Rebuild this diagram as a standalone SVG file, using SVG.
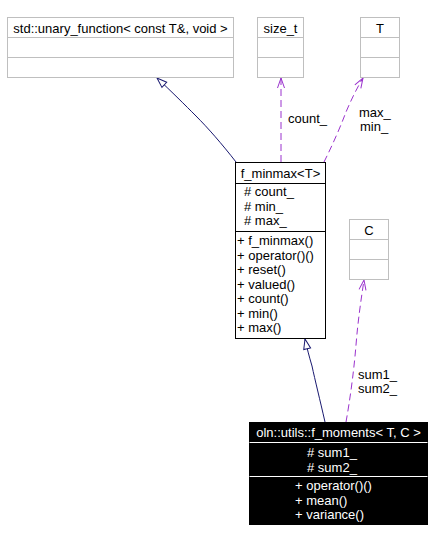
<svg xmlns="http://www.w3.org/2000/svg" width="432" height="542" viewBox="0 0 432 542">
<defs>
<style>
text{font-family:"Liberation Sans",Arial,sans-serif;font-size:13px;fill:#000}
.ext rect,.ext line{fill:#fff;stroke:#bfbfbf;stroke-width:1}
.main rect,.main line{fill:#fff;stroke:#000;stroke-width:1}
.cur rect{fill:#000;stroke:#000}
.cur line{stroke:#fff;stroke-width:1}
.cur text{fill:#fff}
.inh{fill:none;stroke:#191970;stroke-width:1}
.use{fill:none;stroke:#9a32cd;stroke-width:1;stroke-dasharray:7,4}
.lbl{font-size:13px}
</style>
<marker id="tri" markerWidth="12" markerHeight="10" refX="11" refY="5" orient="auto" markerUnits="userSpaceOnUse">
<path d="M1,1.5 L11,5 L1,8.5 Z" fill="#fff" stroke="#191970" stroke-width="1"/>
</marker>
<marker id="vee" markerWidth="12" markerHeight="10" refX="11" refY="5" orient="auto" markerUnits="userSpaceOnUse">
<path d="M1,1.5 L11,5 L1,8.5" fill="none" stroke="#9a32cd" stroke-width="1"/>
</marker>
</defs>
<rect width="432" height="542" fill="#fff"/>

<g id="connectors">
<path class="inh" d="M236,162 C222,144 208,128 196,116 C185,105 172,92 157,78" marker-end="url(#tri)"/>
<path class="use" d="M281,162 L281,78" marker-end="url(#vee)"/>
<path class="use" d="M324,162 C332,146 340,128 346,112 C352,98 357,88 363,78" marker-end="url(#vee)"/>
<path class="inh" d="M325,422 C320,400 315,380 312,366 C309,356 307,348 305,339" marker-end="url(#tri)"/>
<path class="use" d="M346,422 C350,400 354,370 356,345 C358,320 361,300 364,280" marker-end="url(#vee)"/>
<text class="lbl" x="288" y="123">count_</text>
<text class="lbl" x="359" y="117">max_</text>
<text class="lbl" x="360" y="131">min_</text>
<text class="lbl" x="358" y="379">sum1_</text>
<text class="lbl" x="358" y="393">sum2_</text>
</g>

<g id="node-unary-function" class="ext">
<rect x="7.5" y="17.5" width="226" height="60"/>
<line x1="7.5" y1="37.5" x2="233.5" y2="37.5"/>
<line x1="7.5" y1="57.5" x2="233.5" y2="57.5"/>
<text x="120.5" y="33" text-anchor="middle">std::unary_function&lt; const T&amp;, void &gt;</text>
</g>

<g id="node-size-t" class="ext">
<rect x="257.5" y="17.5" width="46" height="60"/>
<line x1="257.5" y1="37.5" x2="303.5" y2="37.5"/>
<line x1="257.5" y1="57.5" x2="303.5" y2="57.5"/>
<text x="280.5" y="33" text-anchor="middle">size_t</text>
</g>

<g id="node-T" class="ext">
<rect x="360.5" y="17.5" width="39" height="60"/>
<line x1="360.5" y1="37.5" x2="399.5" y2="37.5"/>
<line x1="360.5" y1="57.5" x2="399.5" y2="57.5"/>
<text x="380" y="33" text-anchor="middle">T</text>
</g>

<g id="node-C" class="ext">
<rect x="349.5" y="219.5" width="39" height="60"/>
<line x1="349.5" y1="239.5" x2="388.5" y2="239.5"/>
<line x1="349.5" y1="259.5" x2="388.5" y2="259.5"/>
<text x="369" y="235" text-anchor="middle">C</text>
</g>

<g id="node-f-minmax" class="main">
<rect x="235.5" y="162.5" width="90" height="176"/>
<line x1="235.5" y1="183.5" x2="325.5" y2="183.5"/>
<line x1="235.5" y1="231.5" x2="325.5" y2="231.5"/>
<text x="280.5" y="178" text-anchor="middle">f_minmax&lt;T&gt;</text>
<text x="244" y="196"># count_</text>
<text x="244" y="210.5"># min_</text>
<text x="244" y="225"># max_</text>
<text x="237" y="245">+ f_minmax()</text>
<text x="237" y="259.5">+ operator()()</text>
<text x="237" y="274">+ reset()</text>
<text x="237" y="288.5">+ valued()</text>
<text x="237" y="303">+ count()</text>
<text x="237" y="317.5">+ min()</text>
<text x="237" y="332">+ max()</text>
</g>

<g id="node-f-moments" class="cur">
<rect x="249.5" y="422.5" width="178" height="102"/>
<line x1="249.5" y1="442.5" x2="427.5" y2="442.5"/>
<line x1="249.5" y1="476.5" x2="427.5" y2="476.5"/>
<text x="338.5" y="437" text-anchor="middle">oln::utils::f_moments&lt; T, C &gt;</text>
<text x="307" y="457"># sum1_</text>
<text x="307" y="471.5"># sum2_</text>
<text x="295" y="490">+ operator()()</text>
<text x="295" y="504.5">+ mean()</text>
<text x="295" y="519">+ variance()</text>
</g>
</svg>
